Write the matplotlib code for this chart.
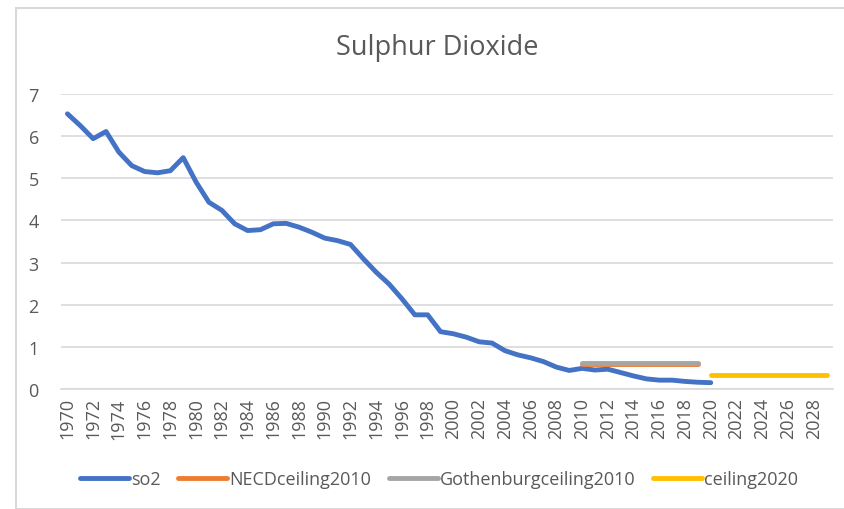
import matplotlib.pyplot as plt
from matplotlib.patches import Rectangle
import numpy as np

plt.rcParams['font.family'] = ['Open Sans', 'DejaVu Sans']

years = list(range(1970, 2030))
so2 = [6.53, 6.25, 5.94, 6.11, 5.62, 5.30, 5.16, 5.13, 5.18, 5.49,
       4.91, 4.43, 4.24, 3.92, 3.76, 3.78, 3.92, 3.93, 3.84, 3.72,
       3.58, 3.52, 3.43, 3.09, 2.77, 2.49, 2.14, 1.76, 1.76, 1.36,
       1.31, 1.23, 1.12, 1.09, 0.91, 0.81, 0.74, 0.65, 0.52, 0.44,
       0.49, 0.45, 0.47, 0.39, 0.31, 0.24, 0.21, 0.21, 0.18, 0.16,
       0.15]
necd_years = list(range(2010, 2020))
necd_ceiling = [0.585] * len(necd_years)
goth_years = list(range(2010, 2020))
goth_ceiling = [0.625] * len(goth_years)
c2020_years = list(range(2020, 2030))
ceiling_2020 = [0.34] * len(c2020_years)

W, H = 844, 510
fig = plt.figure(figsize=(W / 100, H / 100), dpi=100)
fig.patches.append(Rectangle((16 / W, 0), 1.0, 1 - 9 / H, transform=fig.transFigure,
                             fill=False, edgecolor='#d9d9d9', linewidth=1.5))
ax = fig.add_axes([61 / W, 1 - 390 / H, 772 / W, 295 / H])

idx = {y: i for i, y in enumerate(years)}
lw = 3.5
ax.plot([idx[y] for y in years[:len(so2)]], so2, color='#4472c4', lw=lw,
        solid_capstyle='round', solid_joinstyle='round', label='so2')
ax.plot([idx[y] for y in necd_years], necd_ceiling, color='#ed7d31', lw=lw,
        solid_capstyle='round', label='NECDceiling2010')
ax.plot([idx[y] for y in goth_years], goth_ceiling, color='#a5a5a5', lw=lw,
        solid_capstyle='round', label='Gothenburgceiling2010')
ax.plot([idx[y] for y in c2020_years], ceiling_2020, color='#ffc000', lw=lw,
        solid_capstyle='round', label='ceiling2020')

ax.set_xlim(-0.5, len(years) - 0.5)
ax.set_ylim(0, 7)
ax.set_yticks(range(0, 8))
ax.set_xticks(np.arange(0, len(years), 2))
ax.set_xticklabels([str(y) for y in years[::2]], rotation=90)
ax.grid(axis='y', color='#d9d9d9', lw=1.2)
ax.set_axisbelow(True)
for s in ['top', 'right', 'left']:
    ax.spines[s].set_visible(False)
ax.spines['bottom'].set_color('#d9d9d9')
ax.spines['bottom'].set_linewidth(1.2)
ax.tick_params(length=0, labelsize=13, labelcolor='#595959')
ax.tick_params(axis='y', pad=16)
ax.tick_params(axis='x', pad=6)

fig.text(437 / W, 1 - 48 / H, 'Sulphur Dioxide', ha='center', va='center',
         fontsize=19.5, color='#595959')
fig.legend(loc='center', bbox_to_anchor=(439 / W, 1 - 480 / H), ncol=4,
           frameon=False, fontsize=13, labelcolor='#595959', handlelength=2.7,
           handletextpad=0.1, columnspacing=1.0)

plt.savefig('out.png', dpi=100)
